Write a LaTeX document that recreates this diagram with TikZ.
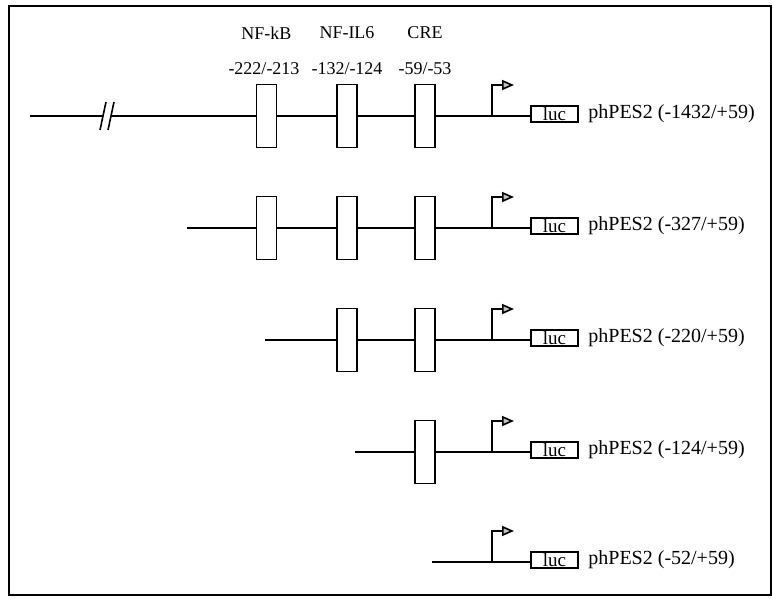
\documentclass[tikz,border=0pt]{standalone}
\usepackage{fontspec}
\setmainfont{Liberation Serif}
\usetikzlibrary{arrows.meta}
\begin{document}
\begin{tikzpicture}[x=0.5pt,y=-0.5pt,
  dna/.style={line width=0.8pt},
  site/.style={draw, line width=0.8pt, fill=white, minimum width=10pt, minimum height=31.5pt, inner sep=0pt},
  lucbox/.style={draw, line width=0.8pt, fill=white, minimum width=23.5pt, minimum height=8pt, inner sep=0pt, font=\fontsize{9.5}{10}\selectfont},
  lbl/.style={anchor=west, inner sep=0pt, font=\fontsize{10}{12}\selectfont},
  hdr/.style={inner sep=0pt, font=\fontsize{9}{11}\selectfont},
  prom/.style={line width=0.8pt, -{Triangle[length=6pt,width=5pt,fill=gray!50]}}
]
\useasboundingbox (0,0) rectangle (773,599);
\draw[line width=0.8pt] (9,6) rectangle (771,595);

% headers
\node[hdr] (h1) at (266.5,33) {NF-kB};
\node[hdr] (h2) at (347,33) {NF-IL6};
\node[hdr] (h3) at (425,33) {CRE};
\node[hdr] (n1) at (264,69) {-222/-213};
\node[hdr] (n2) at (347,69) {-132/-124};
\node[hdr] (n3) at (425,69) {-59/-53};

% row 1
\coordinate (r1s) at (30,116);
\coordinate (r1k1) at (103,116);
\coordinate (r1k2) at (111,116);
\coordinate (r1p) at (492,116);
\coordinate (r1t) at (514,85);
\node[lucbox] (r1l) at (554.5,114) {luc};
\draw[dna] (r1s) -- (r1k1);
\draw[dna] (r1k2) -- (r1l.west |- r1p);
\draw[dna] (100,130) -- (106,102);
\draw[dna] (108,130) -- (114,102);
\node[site] (r1a) at (266.5,116) {};
\node[site] (r1b) at (347,116) {};
\node[site] (r1c) at (425,116) {};
\draw[prom] (r1p) |- (r1t);
\node[lbl] (r1n) at (588,114) {phPES2 (-1432/+59)};

% row 2
\coordinate (r2s) at (187,228);
\coordinate (r2p) at (492,228);
\coordinate (r2t) at (514,197);
\node[lucbox] (r2l) at (554.5,226) {luc};
\draw[dna] (r2s) -- (r2l.west |- r2p);
\node[site] (r2a) at (266.5,228) {};
\node[site] (r2b) at (347,228) {};
\node[site] (r2c) at (425,228) {};
\draw[prom] (r2p) |- (r2t);
\node[lbl] (r2n) at (588,226) {phPES2 (-327/+59)};

% row 3
\coordinate (r3s) at (265,340);
\coordinate (r3p) at (492,340);
\coordinate (r3t) at (514,309);
\node[lucbox] (r3l) at (554.5,338) {luc};
\draw[dna] (r3s) -- (r3l.west |- r3p);
\node[site] (r3b) at (347,340) {};
\node[site] (r3c) at (425,340) {};
\draw[prom] (r3p) |- (r3t);
\node[lbl] (r3n) at (588,338) {phPES2 (-220/+59)};

% row 4
\coordinate (r4s) at (355,452);
\coordinate (r4p) at (492,452);
\coordinate (r4t) at (514,421);
\node[lucbox] (r4l) at (554.5,450) {luc};
\draw[dna] (r4s) -- (r4l.west |- r4p);
\node[site] (r4c) at (425,452) {};
\draw[prom] (r4p) |- (r4t);
\node[lbl] (r4n) at (588,450) {phPES2 (-124/+59)};

% row 5
\coordinate (r5s) at (432,562);
\coordinate (r5p) at (492,562);
\coordinate (r5t) at (514,531);
\node[lucbox] (r5l) at (554.5,560) {luc};
\draw[dna] (r5s) -- (r5l.west |- r5p);
\draw[prom] (r5p) |- (r5t);
\node[lbl] (r5n) at (588,560) {phPES2 (-52/+59)};
\end{tikzpicture}
\end{document}
